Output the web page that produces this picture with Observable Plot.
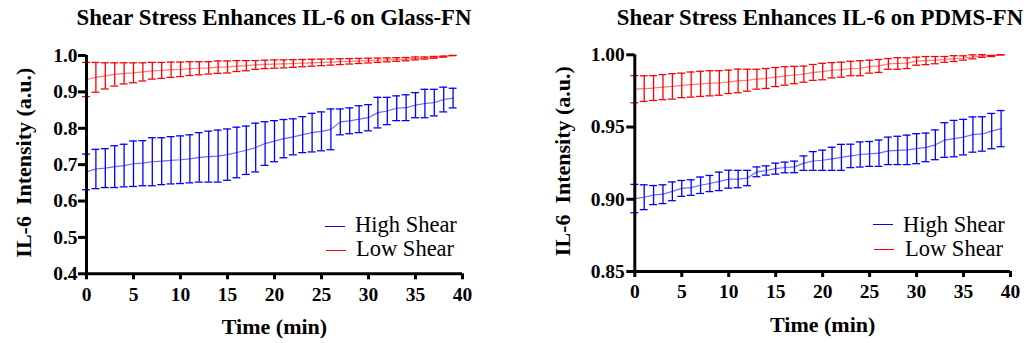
<!DOCTYPE html>
<html><head><meta charset="utf-8">
<script src="https://cdn.jsdelivr.net/npm/d3@7"></script>
<script src="https://cdn.jsdelivr.net/npm/@observablehq/plot@0.6"></script>
<style>
body{margin:0;background:#fff;width:1027px;height:343px;overflow:hidden;position:relative;font-family:"Liberation Serif","Times New Roman",Times,Tinos,"Noto Serif","DejaVu Serif",FreeSerif,serif;color:#000;}
.panel{position:absolute;top:0;height:343px;}
.title{position:absolute;top:1px;width:600px;text-align:center;font-weight:bold;font-size:22.8px;line-height:34px;white-space:nowrap;}
.chart{position:absolute;top:34px;left:0;}
.lg-line{position:absolute;height:1px;width:20px;}
.lg-text{position:absolute;font-size:22.5px;line-height:22.5px;white-space:nowrap;}
</style>
</head><body>
<script>
const time = [0,1,2,3,4,5,6,7,8,9,10,11,12,13,14,15,16,17,18,19,20,21,22,23,24,25,26,27,28,29,30,31,32,33,34,35,36,37,38,39];
const xTicks = [0,5,10,15,20,25,30,35,40];
const seriesNames = ["High Shear","Low Shear"];
const titles = ["Shear Stress Enhances IL-6 on Glass-FN","Shear Stress Enhances IL-6 on PDMS-FN"];
const xLabel = "Time (min)";
const yLabel = "IL-6  Intensity (a.u.)";

// Glass-FN
const glassHighMean = [0.680,0.688,0.6905,0.6945,0.6975,0.7025,0.704,0.708,0.7095,0.712,0.7135,0.716,0.720,0.722,0.7235,0.7275,0.7335,0.7395,0.747,0.758,0.7645,0.7715,0.7765,0.7825,0.788,0.7915,0.797,0.8175,0.8205,0.825,0.829,0.843,0.8475,0.855,0.8565,0.8635,0.868,0.8705,0.879,0.883];
const glassHighErr = [0.049,0.054,0.0535,0.0575,0.0585,0.0625,0.062,0.066,0.0645,0.065,0.0655,0.066,0.068,0.070,0.0715,0.0705,0.0695,0.0665,0.067,0.060,0.0565,0.0525,0.0495,0.0495,0.053,0.0535,0.056,0.0355,0.0355,0.037,0.036,0.042,0.0375,0.034,0.0355,0.0345,0.039,0.0365,0.034,0.027];
const glassLowMean = [0.934,0.940,0.944,0.948,0.951,0.9525,0.955,0.958,0.959,0.961,0.962,0.964,0.965,0.966,0.968,0.9685,0.971,0.972,0.974,0.9755,0.9765,0.977,0.978,0.979,0.980,0.981,0.982,0.983,0.984,0.985,0.986,0.987,0.988,0.989,0.990,0.992,0.993,0.995,0.997,1.0];
const glassLowErr = [0.047,0.041,0.036,0.032,0.029,0.0275,0.025,0.023,0.022,0.021,0.020,0.019,0.018,0.017,0.017,0.0165,0.015,0.014,0.012,0.0115,0.0115,0.011,0.0105,0.010,0.0095,0.009,0.0085,0.008,0.0075,0.007,0.0065,0.006,0.0055,0.005,0.0045,0.004,0.003,0.0025,0.0015,0.0];
const glassYTicks = [0.4,0.5,0.6,0.7,0.8,0.9,1.0];

// PDMS-FN
const pdmsHighMean = [0.9005,0.9014,0.9029,0.9035,0.9055,0.9075,0.9081,0.9097,0.9109,0.9124,0.9139,0.914,0.9147,0.919,0.9199,0.9212,0.922,0.9224,0.925,0.9265,0.927,0.928,0.929,0.930,0.931,0.9314,0.9319,0.9335,0.9338,0.9342,0.935,0.9359,0.9377,0.941,0.942,0.943,0.9448,0.9452,0.9472,0.9489];
const pdmsHighErr = [0.0098,0.0086,0.0066,0.0065,0.0065,0.0055,0.0054,0.0057,0.0056,0.0064,0.0062,0.006,0.0053,0.0034,0.0032,0.0038,0.0037,0.004,0.005,0.0065,0.007,0.008,0.009,0.0081,0.0087,0.0086,0.0091,0.0095,0.0098,0.0102,0.0104,0.0099,0.0103,0.012,0.0126,0.0123,0.0122,0.0119,0.0122,0.0125];
const pdmsLowMean = [0.9762,0.9766,0.977,0.9776,0.9781,0.9788,0.9794,0.9799,0.9803,0.9805,0.9813,0.9819,0.9824,0.9831,0.9836,0.9846,0.9854,0.986,0.9866,0.9878,0.9884,0.9893,0.9897,0.9905,0.9907,0.9918,0.9923,0.9937,0.994,0.9942,0.9956,0.996,0.9963,0.9968,0.9974,0.9978,0.9986,0.9992,0.9992,1.0];
const pdmsLowErr = [0.0094,0.0089,0.0086,0.0087,0.0088,0.0085,0.0087,0.0087,0.0087,0.0085,0.0081,0.0082,0.0076,0.0069,0.0069,0.0066,0.0064,0.006,0.0056,0.0055,0.0057,0.0053,0.0052,0.005,0.0052,0.0045,0.0045,0.0037,0.004,0.0037,0.0028,0.0028,0.0025,0.002,0.002,0.0015,0.0014,0.0009,0.0004,0.0];
const pdmsYTicks = [0.85,0.90,0.95,1.00];

const colors = ["#0000ff","#ff0000"];
const lineColors = ["#6a6aff","#ff7a7a"];
const serif = "'Liberation Serif','Times New Roman',Times,Tinos,'Noto Serif','DejaVu Serif',FreeSerif,serif";

function rows(mean, err) {
  return time.map((t, i) => ({t, m: mean[i], e: err[i]}));
}

function seriesMarks(data, ci) {
  const c = colors[ci];
  return [
    Plot.line(data, {x: "t", y: "m", stroke: lineColors[ci], strokeWidth: 1.2}),
    Plot.ruleX(data, {x: "t", y1: d => d.m - d.e, y2: d => d.m + d.e, stroke: c, strokeWidth: 1.3}),
    Plot.ruleY(data, {y: d => d.m + d.e, x1: d => d.t - 0.42, x2: d => d.t + 0.42, stroke: c, strokeWidth: 1.3}),
    Plot.ruleY(data, {y: d => d.m - d.e, x1: d => d.t - 0.42, x2: d => d.t + 0.42, stroke: c, strokeWidth: 1.3})
  ];
}

function makePanel(cfg) {
  const panel = document.createElement("div");
  panel.className = "panel";
  panel.style.left = cfg.left + "px";
  panel.style.width = cfg.width + "px";
  const title = document.createElement("div");
  title.className = "title";
  title.style.left = (cfg.titleCenter - 300) + "px";
  title.textContent = cfg.title;
  panel.appendChild(title);

  const chart = Plot.plot({
    width: cfg.width,
    height: 309,
    marginLeft: cfg.mL,
    marginRight: cfg.mR,
    marginTop: cfg.mT,
    marginBottom: cfg.mB,
    style: {fontFamily: serif, fontSize: "19.5px", fontWeight: "bold", color: "#000", background: "transparent", overflow: "visible"},
    x: {domain: [0, 40]},
    y: {domain: cfg.yDomain},
    marks: [
      ...seriesMarks(cfg.high, 0),
      ...seriesMarks(cfg.low, 1),
      Plot.axisY({ticks: cfg.yTicks, tickFormat: cfg.fmt, tickSize: 8, tickPadding: cfg.yPad, strokeWidth: 3, label: null, fontWeight: "bold", fontFamily: serif}),
      Plot.axisX({ticks: xTicks, tickFormat: d => String(d), tickSize: 6, tickPadding: 7, strokeWidth: 3, label: null, fontWeight: "bold", fontFamily: serif}),
      Plot.ruleX([0], {strokeWidth: 3, stroke: "#000"}),
      Plot.ruleY([cfg.yDomain[0]], {strokeWidth: 3, stroke: "#000"}),
      Plot.text([xLabel], {frameAnchor: "bottom", textAnchor: "middle", lineAnchor: "middle", dy: 53, fontSize: 22, fontWeight: "bold", fontFamily: serif, fill: "#000"}),
      Plot.text([yLabel], {frameAnchor: "left", textAnchor: "middle", lineAnchor: "middle", rotate: -90, dx: cfg.yLabelDx, dy: -2, fontSize: 22, fontWeight: "bold", fontFamily: serif, fill: "#000"})
    ]
  });
  chart.classList.add("chart");
  panel.appendChild(chart);

  cfg.legend.forEach((lg, i) => {
    const ln = document.createElement("div");
    ln.className = "lg-line";
    ln.style.left = lg.lineX + "px";
    ln.style.top = Math.round(lg.lineY) + "px";
    ln.style.background = colors[i];
    panel.appendChild(ln);
    const tx = document.createElement("div");
    tx.className = "lg-text";
    tx.style.left = lg.textX + "px";
    tx.style.top = (lg.baseY - 18.85) + "px";
    tx.textContent = seriesNames[i];
    panel.appendChild(tx);
  });
  document.body.appendChild(panel);
}

makePanel({
  left: 0, width: 513, title: titles[0], titleCenter: 274,
  mL: 86, mR: 51, mT: 21, mB: 69.7,
  yDomain: [0.4, 1.0], yTicks: glassYTicks, fmt: d3.format(".1f"), yPad: 1,
  high: rows(glassHighMean, glassHighErr), low: rows(glassLowMean, glassLowErr),
  yLabelDx: -63,
  legend: [{lineX: 325, lineY: 226, textX: 355, baseY: 233.3}, {lineX: 326, lineY: 250, textX: 356, baseY: 257.3}]
});
makePanel({
  left: 513, width: 514, title: titles[1], titleCenter: 307,
  mL: 121.3, mR: 17, mT: 20.3, mB: 72,
  yDomain: [0.85, 1.0], yTicks: pdmsYTicks, fmt: d3.format(".2f"), yPad: 2,
  high: rows(pdmsHighMean, pdmsHighErr), low: rows(pdmsLowMean, pdmsLowErr),
  yLabelDx: -72,
  legend: [{lineX: 360, lineY: 224, textX: 390, baseY: 233.3}, {lineX: 361, lineY: 249, textX: 392, baseY: 257}]
});
</script>
</body></html>
